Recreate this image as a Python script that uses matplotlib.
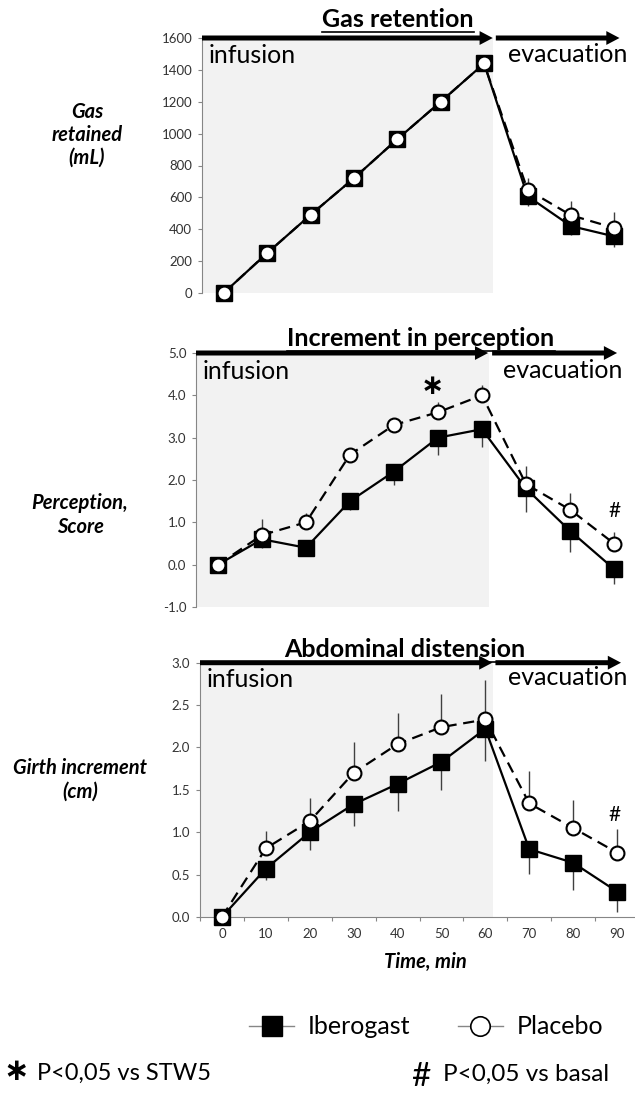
import matplotlib
matplotlib.use('Agg')
import matplotlib.pyplot as plt
from matplotlib.lines import Line2D
from matplotlib.patches import ArrowStyle
import numpy as np

plt.rcParams['font.family'] = ['Lato', 'DejaVu Sans']

# ---------------- data ----------------
times = [0, 10, 20, 30, 40, 50, 60, 70, 80, 90]
time_labels = [str(t) for t in times]

gas_ibero = [0, 250, 490, 720, 965, 1200, 1440, 608, 420, 355]
gas_plac = [0, 250, 490, 720, 965, 1200, 1440, 648, 488, 408]
gas_ibero_err = [0, 0, 0, 0, 0, 0, 0, 60, 55, 65]
gas_plac_err = [0, 0, 0, 0, 0, 0, 0, 75, 90, 100]

perc_ibero = [0, 0.6, 0.4, 1.5, 2.2, 3.0, 3.2, 1.8, 0.8, -0.1]
perc_plac = [0, 0.7, 1.0, 2.6, 3.3, 3.6, 4.0, 1.9, 1.3, 0.5]
perc_ibero_err = [0, 0.2, 0.2, 0.2, 0.32, 0.4, 0.43, 0.56, 0.49, 0.35]
perc_plac_err = [0, 0.37, 0.23, 0.1, 0.15, 0.24, 0.25, 0.42, 0.4, 0.26]

dist_ibero = [0, 0.57, 1.0, 1.33, 1.57, 1.83, 2.22, 0.8, 0.64, 0.3]
dist_plac = [0, 0.81, 1.13, 1.7, 2.04, 2.24, 2.33, 1.34, 1.05, 0.76]
dist_ibero_err = [0, 0.13, 0.21, 0.26, 0.32, 0.33, 0.38, 0.29, 0.32, 0.24]
dist_plac_err = [0, 0.2, 0.27, 0.36, 0.37, 0.39, 0.47, 0.38, 0.33, 0.28]

gas_ticks = [0, 200, 400, 600, 800, 1000, 1200, 1400, 1600]
perc_ticks = [-1.0, 0.0, 1.0, 2.0, 3.0, 4.0, 5.0]
dist_ticks = [0.0, 0.5, 1.0, 1.5, 2.0, 2.5, 3.0]

titles = ['Gas retention', 'Increment in perception', 'Abdominal distension']
ylabels = ['Gas\nretained\n(mL)', 'Perception,\nScore', 'Girth increment\n(cm)']
series_names = ['Iberogast', 'Placebo']

# ---------------- layout ----------------
W, H = 635, 1094
fig = plt.figure(figsize=(W / 100, H / 100), dpi=100)


def ax_at(left, top, right, bottom):
    return fig.add_axes([left / W, 1 - bottom / H, (right - left) / W, (bottom - top) / H])


def fpos(x, y):
    return x / W, 1 - y / H


GRAY = '#868686'
SHADE = '#f2f2f2'
ECOL = '#404040'

ax1 = ax_at(202, 38, 636, 293)
ax2 = ax_at(196, 353, 636, 607)
ax3 = ax_at(200, 662.7, 639, 917)


def style(ax, ylim, ticks, fmt, shade_end):
    ax.set_xlim(-5, 95)
    ax.set_ylim(*ylim)
    ax.patch.set_alpha(0)
    for s in ['top', 'right', 'bottom']:
        ax.spines[s].set_visible(False)
    ax.spines['left'].set_color(GRAY)
    ax.spines['left'].set_linewidth(0.8)
    ax.set_yticks(ticks)
    ax.set_yticklabels([fmt.format(v) for v in ticks])
    ax.tick_params(axis='y', length=3, width=0.8, color=GRAY, labelsize=9.5,
                   labelcolor='#333333', pad=4)
    ax.tick_params(axis='x', bottom=False, labelbottom=False)
    ax.axvspan(-5, shade_end, color=SHADE, zorder=0, lw=0)


def draw_series(ax, ib, ib_err, pl, pl_err):
    zeros = [0] * len(times)
    ax.errorbar(times, ib, yerr=[ib_err, zeros], fmt='none', ecolor=ECOL,
                elinewidth=1, capsize=0, zorder=2, clip_on=False)
    ax.errorbar(times, pl, yerr=[zeros, pl_err], fmt='none', ecolor=ECOL,
                elinewidth=1, capsize=0, zorder=2, clip_on=False)
    ax.plot(times, ib, color='black', lw=1.6, marker='s', ms=12,
            mfc='black', mec='black', zorder=3, clip_on=False)
    ax.plot(times, pl, color='black', lw=1.6, ls=(0, (5, 3)), marker='o', ms=10,
            mfc='white', mec='black', mew=1.5, zorder=4, clip_on=False)


def arrows(ax, y, end1, start2, end2):
    st = ArrowStyle('Simple', head_length=0.95, head_width=1.0, tail_width=0.36)
    for a, b in [(-5, end1), (start2, end2)]:
        ax.annotate('', xy=(b, y), xytext=(a, y),
                    arrowprops=dict(arrowstyle=st, fc='black', ec='none', lw=0,
                                    mutation_scale=10, shrinkA=0, shrinkB=0),
                    annotation_clip=False, zorder=6)


style(ax1, (0, 1600), gas_ticks, '{:.0f}', 62)
style(ax2, (-1, 5), perc_ticks, '{:.1f}', 61.5)
style(ax3, (0, 3), dist_ticks, '{:.1f}', 61.7)

draw_series(ax1, gas_ibero, gas_ibero_err, gas_plac, gas_plac_err)
draw_series(ax2, perc_ibero, perc_ibero_err, perc_plac, perc_plac_err)
draw_series(ax3, dist_ibero, dist_ibero_err, dist_plac, dist_plac_err)

arrows(ax1, 1600, 62.0, 62.7, 91.2)
arrows(ax2, 5.0, 61.4, 62.3, 90.7)
arrows(ax3, 3.0, 61.6, 62.3, 90.9)

# infusion / evacuation labels
for ax, yb in [(ax1, 1443), (ax2, 4.39), (ax3, 2.71)]:
    ax.text(-3.5, yb, 'infusion', fontsize=18, ha='left', va='baseline', zorder=7)
for ax, yb, xr in [(ax1, 1450, 93.0), (ax2, 4.41, 92.0), (ax3, 2.74, 92.3)]:
    ax.text(xr, yb, 'evacuation', fontsize=18, ha='right', va='baseline', zorder=7)

# significance marks
ax2.text(48.6, 4.22, '\u2217', fontsize=20, fontweight='bold', ha='center', va='center',
         family='DejaVu Sans')
ax2.text(90.2, 1.26, '#', fontsize=15, ha='center', va='center')
ax3.text(89.4, 1.2, '#', fontsize=15, ha='center', va='center')

# bottom x axis
ax3.spines['bottom'].set_visible(True)
ax3.spines['bottom'].set_color(GRAY)
ax3.spines['bottom'].set_linewidth(0.8)
ax3.set_xticks(times)
ax3.set_xticklabels(time_labels)
bounds = [t - 5 for t in times] + [times[-1] + 5]
ax3.set_xticks(bounds, minor=True)
ax3.tick_params(axis='x', which='major', bottom=True, labelbottom=True, length=0,
                labelsize=9.5, labelcolor='#333333', pad=8)
ax3.tick_params(axis='x', which='minor', bottom=True, length=3, width=0.8, color=GRAY)

fig.text(*fpos(425, 968), 'Time, min', fontsize=14.5, fontweight='bold',
         fontstyle='italic', ha='center', va='baseline')

# titles
title_pos = [(398, 27), (421, 346), (405, 657)]
title_texts = []
for t, (x, y) in zip(titles, title_pos):
    title_texts.append(fig.text(*fpos(x, y), t, fontsize=18, fontweight='bold',
                                ha='center', va='baseline', zorder=8))

# y labels
for lab, (x, y) in zip(ylabels, [(87, 135), (80, 515), (80, 780)]):
    fig.text(*fpos(x, y), lab, fontsize=14.5, fontweight='bold', fontstyle='italic',
             ha='center', va='center', linespacing=1.2)

# legend
handles = [Line2D([], [], color=GRAY, lw=1, marker='s', ms=14, mfc='black', mec='black'),
           Line2D([], [], color=GRAY, lw=1, marker='o', ms=14, mfc='white', mec='black', mew=1.2)]
fig.legend(handles, series_names, loc='center left', bbox_to_anchor=fpos(249, 1027),
           ncol=2, frameon=False, fontsize=18, handlelength=1.8, handletextpad=0.55,
           columnspacing=1.9, borderpad=0, borderaxespad=0)

# footnotes
fig.text(*fpos(16, 1072), '\u2217', fontsize=22, fontweight='bold', ha='center', va='center',
         family='DejaVu Sans')
fig.text(*fpos(37, 1080), 'P<0,05 vs STW5', fontsize=17, ha='left', va='baseline')
fig.text(*fpos(421, 1077), '#', fontsize=24, ha='center', va='center')
fig.text(*fpos(443, 1081), 'P<0,05 vs basal', fontsize=17.5, ha='left', va='baseline')

# underline titles
fig.canvas.draw()
r = fig.canvas.get_renderer()
for t, (x, y) in zip(title_texts, title_pos):
    bb = t.get_window_extent(r)
    uy = 1 - (y + 5) / H
    fig.add_artist(Line2D([bb.x0 / W, bb.x1 / W], [uy, uy], color='black', lw=1.2,
                          transform=fig.transFigure, zorder=8))

fig.savefig('out.png', dpi=100)
